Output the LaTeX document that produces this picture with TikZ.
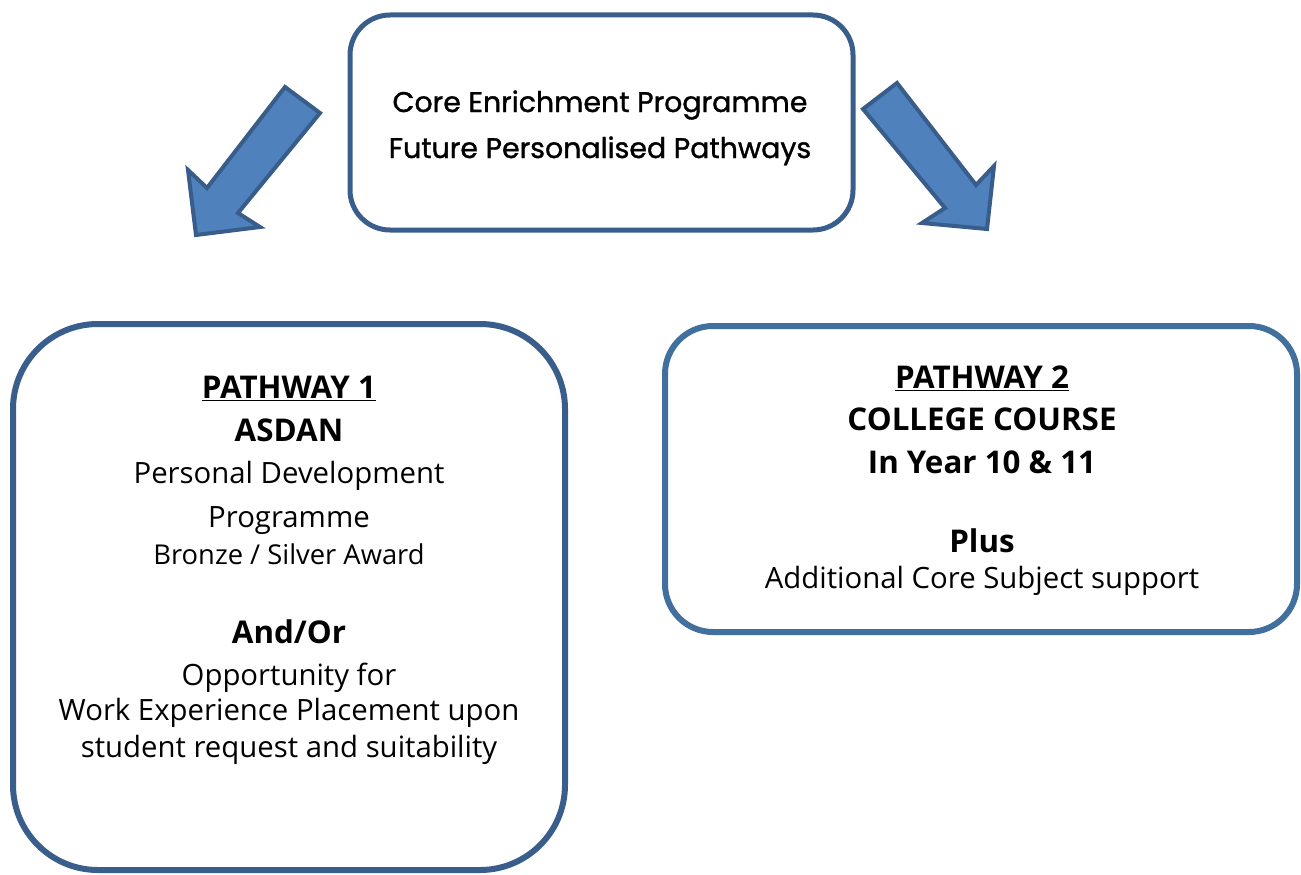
\documentclass[tikz,border=0pt]{standalone}
\usepackage{fontspec}
\setmainfont{Open Sans}
\newfontfamily\headfont[FakeBold=1.2]{Poppins}
\usetikzlibrary{positioning}

\definecolor{boxline}{RGB}{58,94,140}
\definecolor{boxlinelight}{RGB}{65,112,158}
\definecolor{arrowfill}{RGB}{79,129,189}
\definecolor{arrowline}{RGB}{56,93,138}

\tikzset{
  roundbox/.style={draw=boxline, line width=4.5pt, fill=white, inner sep=0pt},
  blockarrow/.style={fill=arrowfill, draw=arrowline, line width=3pt, line join=miter},
  headtxt/.style={anchor=base, font=\headfont\fontsize{21.3}{26}\selectfont},
  bigtxt/.style={anchor=base, font=\fontsize{22}{26}\selectfont},
  smalltxt/.style={anchor=base, font=\fontsize{20.5}{24}\selectfont},
  boldtxt/.style={anchor=base, font=\fontsize{23.5}{27}\selectfont\bfseries},
}

\begin{document}
\begin{tikzpicture}[x=0.75pt, y=-0.75pt]
\useasboundingbox (0,0) rectangle (1301,874);

% boxes
\node [roundbox, line width=3.75pt, rounded corners=30pt,
       minimum width=377.25pt, minimum height=161.25pt] (core) at (601.5, 122.5) {};
\node [roundbox, rounded corners=63.75pt,
       minimum width=414pt, minimum height=409.5pt] (path1) at (289, 597) {};
\node [roundbox, draw=boxlinelight, rounded corners=36pt,
       minimum width=474pt, minimum height=229.5pt] (path2) at (981, 479) {};

% block arrows
\draw [blockarrow] (285, 87) -- (320, 113) -- (238, 213) -- (260, 227)
  -- (196, 235) -- (188, 170) -- (207, 188) -- cycle;
\draw [blockarrow] (897, 83) -- (863, 109) -- (945, 208) -- (922, 223)
  -- (987, 229) -- (994, 166) -- (976, 185) -- cycle;

% top box
\node [headtxt] (coreA) at (600, 112) {Core Enrichment Programme};
\node [headtxt] (coreB) at (600, 158) {Future Personalised Pathways};

% pathway 1
\node [boldtxt] (p1title) at (289, 398) {\underline{PATHWAY 1}};
\node [boldtxt] (p1asdan) at (289, 441) {ASDAN};
\node [bigtxt] (p1pd) at (289, 483) {Personal Development};
\node [bigtxt] (p1prog) at (289, 527) {Programme};
\node [smalltxt] (p1award) at (289, 564) {Bronze / Silver Award};
\node [boldtxt] (p1andor) at (289, 643) {And/Or};
\node [bigtxt] (p1opp) at (289, 685) {Opportunity for};
\node [bigtxt] (p1work) at (289, 720) {Work Experience Placement upon};
\node [bigtxt] (p1req) at (289, 757) {student request and suitability};

% pathway 2
\node [boldtxt] (p2title) at (982, 388) {\underline{PATHWAY 2}};
\node [boldtxt] (p2college) at (982, 430) {COLLEGE COURSE};
\node [boldtxt] (p2year) at (982, 473) {In Year 10 \& 11};
\node [boldtxt] (p2plus) at (982, 552) {Plus};
\node [bigtxt] (p2support) at (982, 588) {Additional Core Subject support};
\end{tikzpicture}
\end{document}
